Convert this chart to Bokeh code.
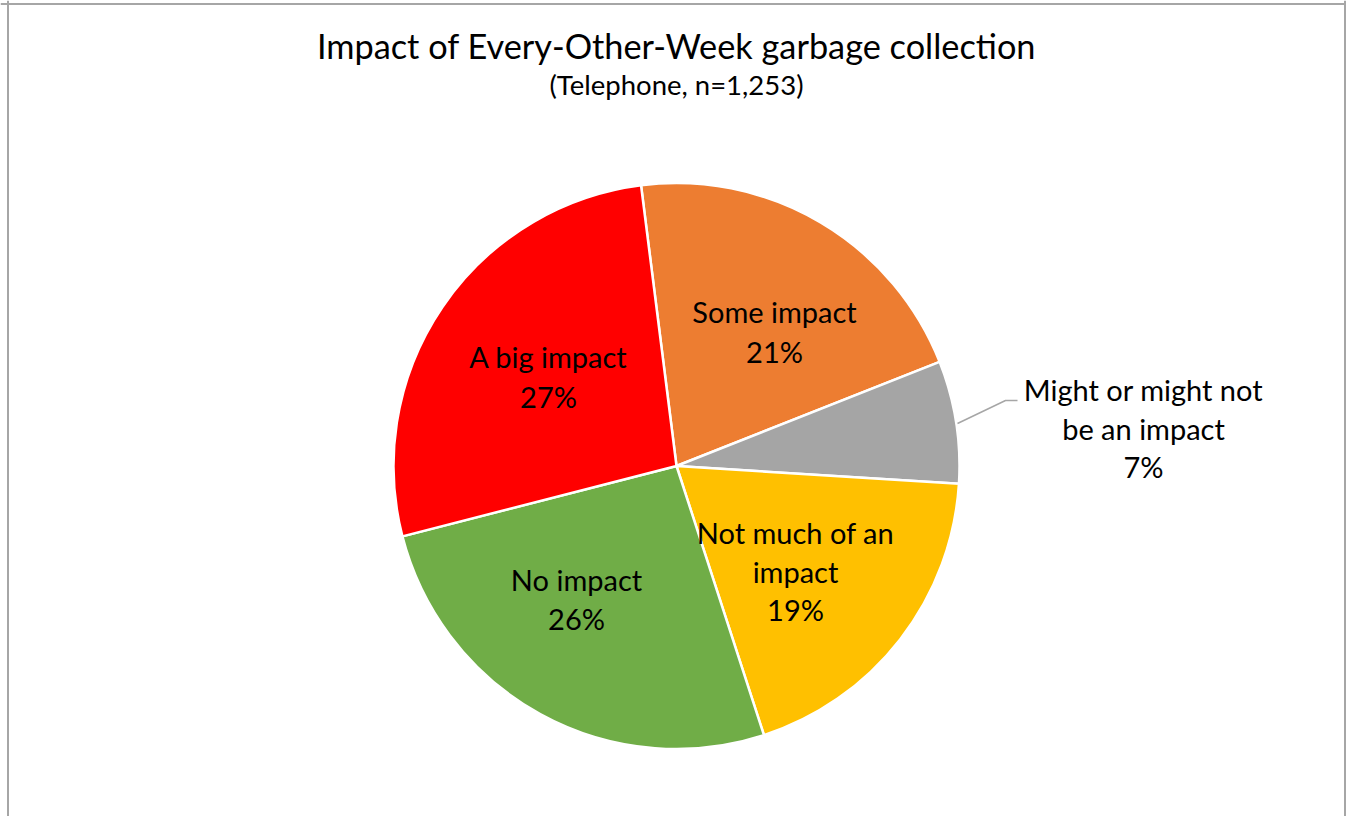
from bokeh.plotting import figure
from bokeh.models import Range1d, ColumnDataSource, Span
from bokeh.core.properties import value
from bokeh.embed import file_html
from bokeh.resources import INLINE

# ---- data ----
categories = ["Some impact", "Might or might not be an impact", "Not much of an impact",
              "No impact", "A big impact"]
percents = [21, 7, 19, 26, 27]
colors = ["#ED7D31", "#A5A5A5", "#FFC000", "#70AD47", "#FF0000"]
label_lines = [["Some impact", "21%"],
               ["Might or might not", "be an impact", "7%"],
               ["Not much of an", "impact", "19%"],
               ["No impact", "26%"],
               ["A big impact", "27%"]]
title_text = "Impact of Every-Other-Week garbage collection"
subtitle_text = "(Telephone, n=1,253)"
first_slice_deg = -7.2  # clockwise from 12 o'clock

W, H = 1346, 816
FONT = "Lato"

def sy(y_screen):
    # screen y (window px) -> data y
    return 820 - y_screen

p = figure(width=W, height=H, output_backend="svg", toolbar_location=None,
           x_range=Range1d(0, W), y_range=Range1d(820 - H, 820),
           min_border=0, outline_line_color=None)
p.axis.visible = False
p.grid.visible = False
p.background_fill_color = "white"
p.border_fill_color = "white"

# chart border (left, top, right)
for loc in [7.5, 1344.5]:
    p.add_layout(Span(location=loc, dimension="height", line_color="#A6A6A6", line_width=2))
p.add_layout(Span(location=sy(3.5), dimension="width", line_color="#A6A6A6", line_width=2))

# pie
cx, cy, r = 676, sy(465.5), 283
total = sum(percents)
starts, ends = [], []
acc = first_slice_deg
for v in percents:
    starts.append(90 - acc)
    acc += v / total * 360
    ends.append(90 - acc)
src = ColumnDataSource(dict(start=starts, end=ends, color=colors, cat=categories))
p.wedge(x=cx, y=cy, radius=r, start_angle="start", end_angle="end",
        start_angle_units="deg", end_angle_units="deg", direction="clock",
        fill_color="color", line_color="white", line_width=2.5, source=src)

# data labels: (center x, first line y in screen px, line pitch)
label_pos = [(774, 311, 40), (1143, 389, 38.5), (795, 532, 38.5), (576, 579, 39), (548, 356, 40)]
for lines, (lx, ly, pitch) in zip(label_lines, label_pos):
    for i, t in enumerate(lines):
        p.text(x=[lx], y=[sy(ly + i * pitch)], text=[t], text_font=value(FONT),
               text_font_size="29px", text_color="black", text_align="center",
               text_baseline="alphabetic")

# leader line for small slice
p.line(x=[1017, 1005, 957], y=[sy(400), sy(400), sy(423)], line_color="#A6A6A6", line_width=1.5)

# titles
p.text(x=[676], y=[sy(44.5)], text=[title_text], text_font=value(FONT), text_font_size="34.3px",
       text_color="black", text_align="center", text_baseline="alphabetic")
p.text(x=[676], y=[sy(84)], text=[subtitle_text], text_font=value(FONT), text_font_size="27.5px",
       text_color="black", text_align="center", text_baseline="alphabetic")

open("out.html", "w").write(file_html(p, INLINE))
